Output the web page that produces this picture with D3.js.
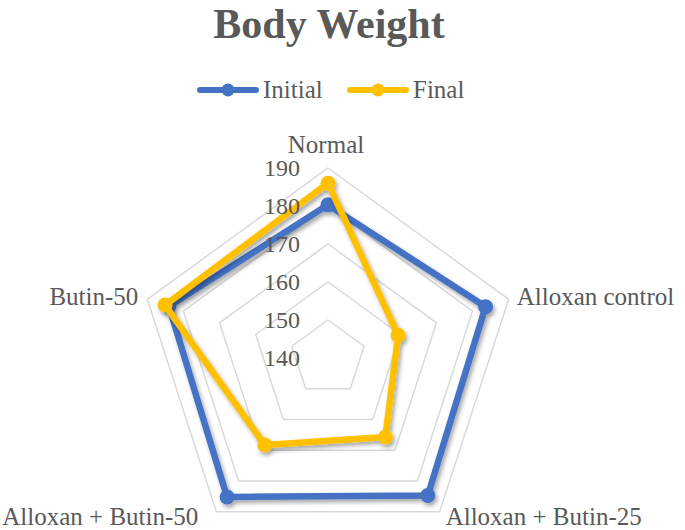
<!DOCTYPE html>
<html>
<head>
<meta charset="utf-8">
<script src="https://cdn.jsdelivr.net/npm/d3@7/dist/d3.min.js"></script>
<style>
html,body{margin:0;padding:0;background:#fff;}
svg{display:block;}
</style>
</head>
<body>
<svg id="chart" width="685" height="530"></svg>
<script>
const categories = ["Normal", "Alloxan control", "Alloxan + Butin-25", "Alloxan + Butin-50", "Butin-50"];
const initialValues = [180.3, 183.6, 184.7, 185.2, 184.0];
const finalValues = [186.0, 159.4, 165.7, 168.3, 185.1];
const tickValues = [140, 150, 160, 170, 180, 190];
const seriesNames = ["Initial", "Final"];
const seriesColors = ["#4472C4", "#FFC000"];

const svg = d3.select("#chart");
const cx = 328, cy = 358;
const r = d3.scaleLinear().domain([140, 190]).range([0, 190]);
const ang = d3.scalePoint().domain(d3.range(categories.length + 1)).range([0, 2 * Math.PI]);
const angle = i => ang(i);
const pt = (i, v) => [cx + r(v) * Math.sin(angle(i)), cy - r(v) * Math.cos(angle(i))];

const defs = svg.append("defs");
const f = defs.append("filter").attr("id", "shadow").attr("x", "-20%").attr("y", "-20%").attr("width", "140%").attr("height", "140%");
f.append("feDropShadow").attr("dx", 2).attr("dy", 3).attr("stdDeviation", 2).attr("flood-color", "#000").attr("flood-opacity", 0.35);

const textColor = "#595959";
const font = "'Liberation Serif', 'Times New Roman', serif";

// title
svg.append("text").attr("x", 329).attr("y", 38).attr("text-anchor", "middle")
  .attr("font-family", font).attr("font-weight", "bold").attr("font-size", 42)
  .attr("fill", textColor).text("Body Weight");

// legend
const legend = svg.append("g");
const legendItems = [{x: 197, tx: 263}, {x: 347, tx: 413}];
seriesNames.forEach((name, k) => {
  const g = legend.append("g");
  g.append("line").attr("x1", legendItems[k].x + 3).attr("x2", legendItems[k].x + 59)
    .attr("y1", 90).attr("y2", 90).attr("stroke", seriesColors[k]).attr("stroke-width", 6)
    .attr("stroke-linecap", "round");
  g.append("circle").attr("cx", legendItems[k].x + 31).attr("cy", 90).attr("r", 6.5).attr("fill", seriesColors[k]);
  g.append("text").attr("x", legendItems[k].tx).attr("y", 98).attr("font-family", font)
    .attr("font-size", 25).attr("fill", textColor).text(name);
});

// grid rings
const line = d3.line();
tickValues.filter(t => t > 140).forEach(t => {
  const pts = categories.map((c, i) => pt(i, t));
  svg.append("path").attr("d", line(pts) + "Z").attr("fill", "none")
    .attr("stroke", "#D9D9D9").attr("stroke-width", 1.5);
});

// series
const allSeries = [initialValues, finalValues];
allSeries.forEach((vals, k) => {
  const g = svg.append("g").attr("filter", "url(#shadow)");
  const pts = vals.map((v, i) => pt(i, v));
  g.append("path").attr("d", line(pts) + "Z").attr("fill", "none")
    .attr("stroke", seriesColors[k]).attr("stroke-width", 6.5).attr("stroke-linejoin", "round");
  g.selectAll("circle").data(pts).join("circle")
    .attr("cx", d => d[0]).attr("cy", d => d[1]).attr("r", 7.5).attr("fill", seriesColors[k]);
});

// tick labels
svg.append("g").selectAll("text").data(tickValues).join("text")
  .attr("x", cx - 28).attr("y", d => cy - r(d)).attr("dy", "0.35em")
  .attr("text-anchor", "end").attr("font-family", font).attr("font-size", 24)
  .attr("fill", textColor).text(d => d);

// category labels
const labelCfg = [
  {dx: -2, dy: -15, anchor: "middle"},
  {dx: 8, dy: 6, anchor: "start"},
  {dx: 6, dy: 13, anchor: "start"},
  {dx: -18, dy: 13, anchor: "end"},
  {dx: -9, dy: 6, anchor: "end"}
];
categories.forEach((c, i) => {
  const p = pt(i, 190);
  svg.append("text").attr("x", p[0] + labelCfg[i].dx).attr("y", p[1] + labelCfg[i].dy)
    .attr("text-anchor", labelCfg[i].anchor).attr("font-family", font).attr("font-size", 25)
    .attr("fill", textColor).text(c);
});
</script>
</body>
</html>
